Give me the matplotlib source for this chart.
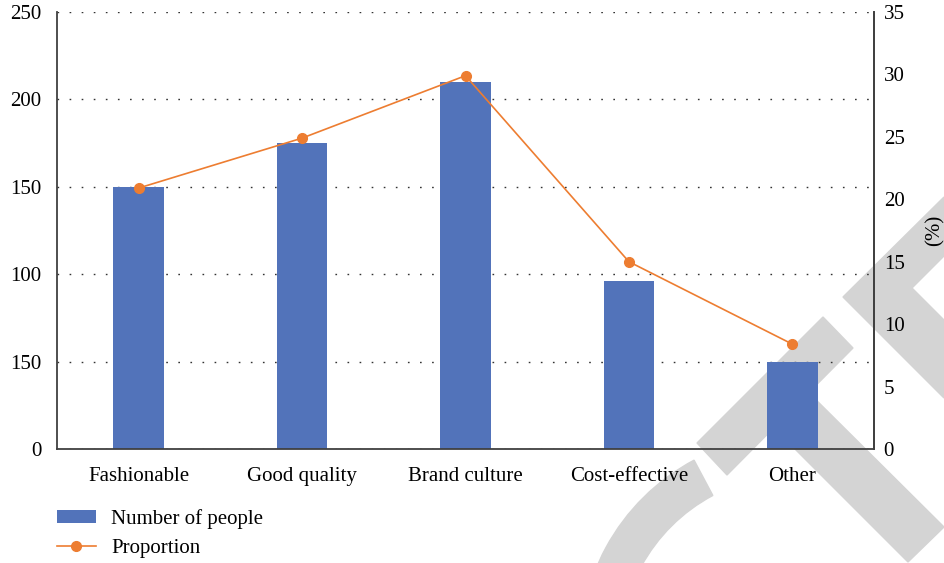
import numpy as np
import matplotlib
matplotlib.use("Agg")
import matplotlib.pyplot as plt
from matplotlib.patches import Polygon, Wedge
from matplotlib.transforms import Affine2D

categories = ["Fashionable", "Good quality", "Brand culture", "Cost-effective", "Other"]
people = [150, 175, 210, 96, 50]
proportion = [20.9, 24.9, 29.9, 15.0, 8.4]

left_ticks = [0, 50, 100, 150, 200, 250]
left_labels = ["0", "150", "100", "150", "200", "250"]
right_ticks = [0, 5, 10, 15, 20, 25, 30, 35]

BLUE = "#5273BA"
ORANGE = "#ED7D31"
GRAY = "#D4D4D4"

plt.rcParams["font.family"] = ["Liberation Serif", "DejaVu Serif"]
plt.rcParams["font.size"] = 15

W, H = 944, 563
fig = plt.figure(figsize=(W / 100, H / 100), dpi=100)
fig.patch.set_facecolor("white")

# watermark shapes, pixel coords (y down)
px = Affine2D().scale(1 / W, -1 / H).translate(0, 1) + fig.transFigure
shapes = [
    [(697, 443), (727, 475), (853, 348), (823, 317)],
    [(758, 412), (793, 377), (944, 527), (908, 562)],
    [(944, 197), (843, 297), (944, 398), (944, 320), (912, 288), (944, 256)],
]
for pts in shapes:
    fig.patches.append(Polygon(pts, closed=True, transform=px, color=GRAY, zorder=-10))
fig.patches.append(Wedge((795, 650), 215, 175, 242, width=40, transform=px,
                         color=GRAY, zorder=-10))

ax = fig.add_axes([57 / W, 1 - 449 / H, (874 - 57) / W, (449 - 12) / H])
ax.patch.set_visible(False)
x = np.arange(len(categories))
bars = ax.bar(x, people, width=0.31, color=BLUE, zorder=2, label="Number of people")
ax.set_xlim(-0.5, len(categories) - 0.5)
ax.set_ylim(0, 250)
ax.set_yticks(left_ticks, left_labels)
ax.set_xticks(x, categories)
ax.tick_params(axis="y", length=0, pad=11)
ax.tick_params(axis="x", length=0, pad=13)
ax.yaxis.grid(True, linestyle=(0, (1.2, 7.5)), color="#333333", linewidth=1.0, zorder=1)
ax.set_axisbelow(True)
ax.spines["top"].set_visible(False)
for s in ("left", "right", "bottom"):
    ax.spines[s].set_color("#404040")
    ax.spines[s].set_linewidth(1.3)

ax2 = ax.twinx()
line, = ax2.plot(x, proportion, color=ORANGE, linewidth=1.2, marker="o",
                 markersize=7, label="Proportion")
ax2.set_ylim(0, 35)
ax2.set_yticks(right_ticks)
ax2.tick_params(axis="y", length=0, pad=7)
ax2.set_ylabel("(%)", labelpad=15)
for s in ("top", "left", "bottom"):
    ax2.spines[s].set_visible(False)
ax2.spines["right"].set_color("#404040")
ax2.spines["right"].set_linewidth(1.3)

fig.legend([bars, line], ["Number of people", "Proportion"],
           loc="upper left", bbox_to_anchor=(57 / W, 1 - 509 / H),
           frameon=False, borderpad=0, borderaxespad=0,
           handlelength=1.85, handletextpad=0.75, labelspacing=0.5,
           handleheight=0.6)

fig.savefig("out.png", dpi=100)
